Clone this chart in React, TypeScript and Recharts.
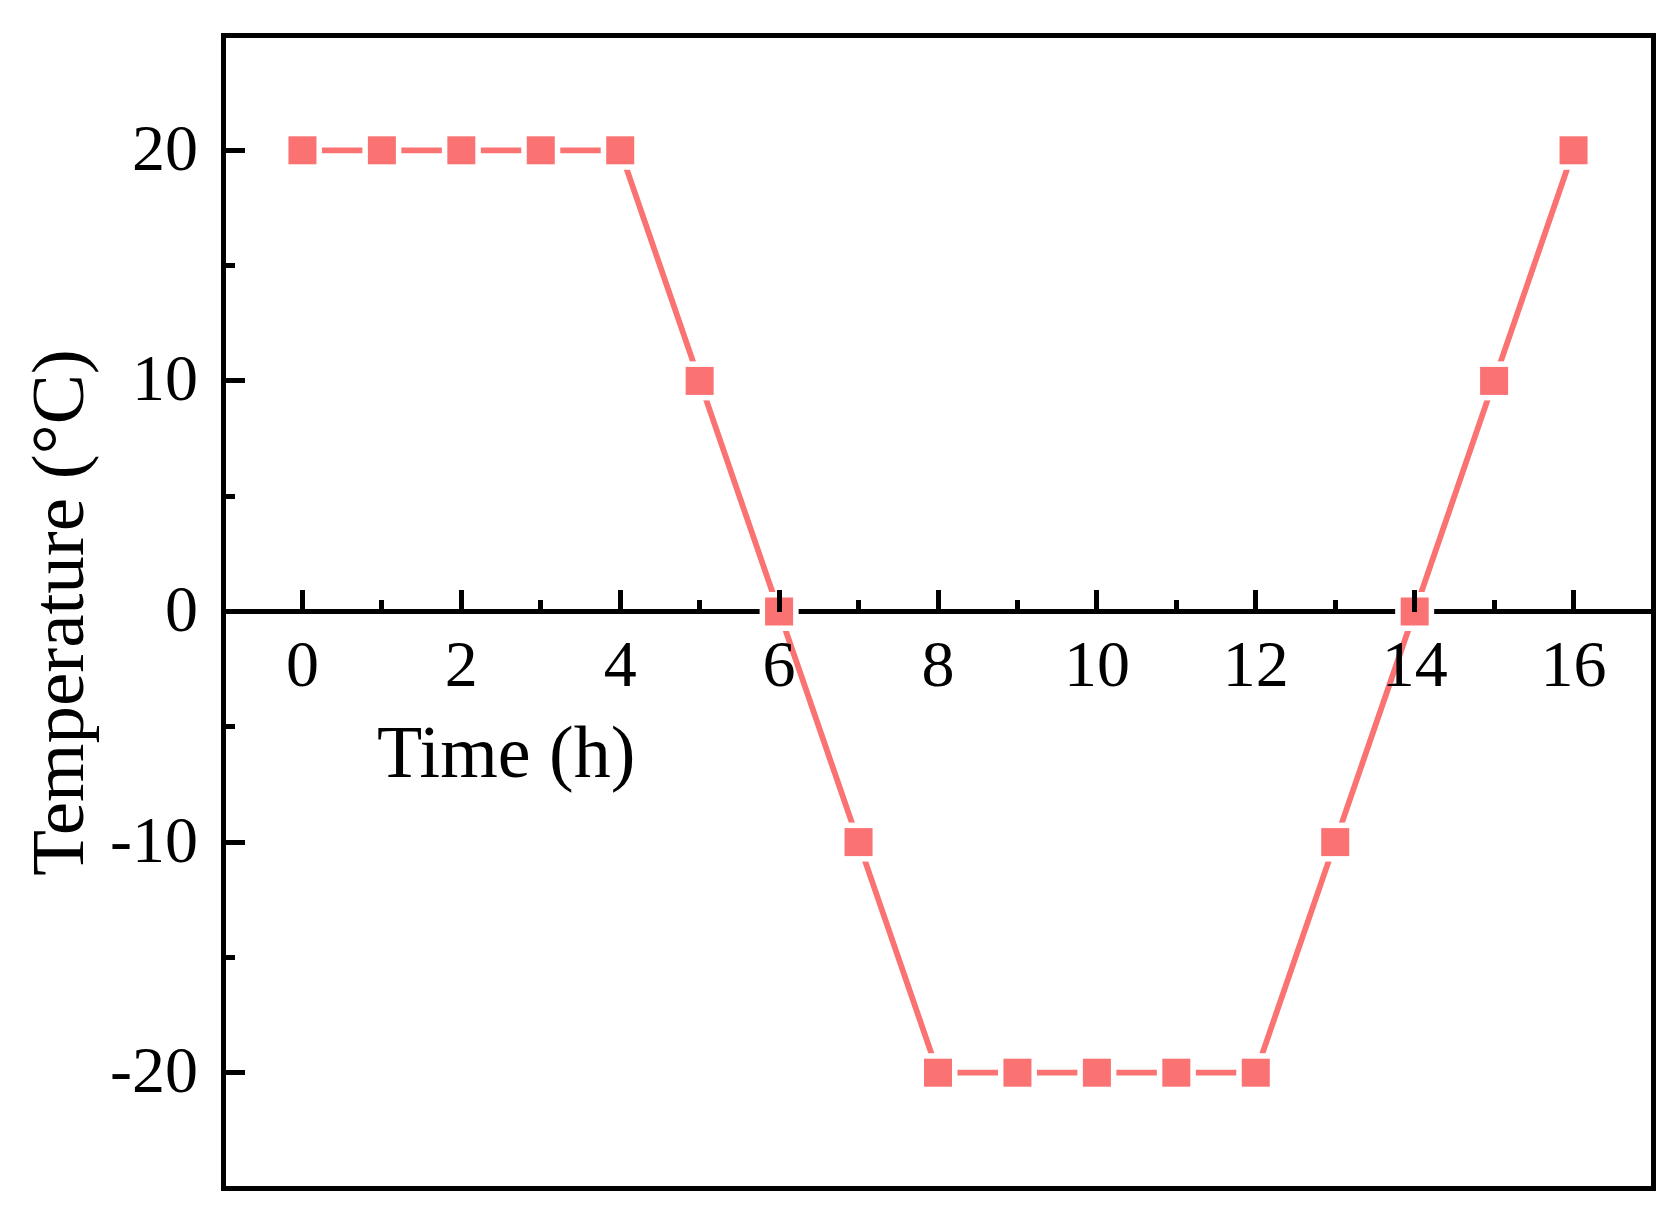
import React from 'react';
import { LineChart, Line, XAxis, YAxis, ReferenceArea, ReferenceLine } from 'recharts';

// chart values
const hours = [0, 1, 2, 3, 4, 5, 6, 7, 8, 9, 10, 11, 12, 13, 14, 15, 16];
const temperature = [20, 20, 20, 20, 20, 10, 0, -10, -20, -20, -20, -20, -20, -10, 0, 10, 20];
const xTicks = [0, 1, 2, 3, 4, 5, 6, 7, 8, 9, 10, 11, 12, 13, 14, 15, 16];
const yTicks = [-20, -15, -10, -5, 0, 5, 10, 15, 20];
const xDomain = [-1, 17];
const yDomain = [-25, 25];
const xTitle = 'Time (h)';
const yTitle = 'Temperature (°C)';

const data = hours.map((h, i) => ({ hour: h, temp: temperature[i] }));

// layout
const W = 1679;
const H = 1224;
const X_AXIS_H = 1;
const MARGIN = { top: 35, right: 26, bottom: 35, left: 0 };
const Y_AXIS_W = 223;
const PLOT_H = H - MARGIN.top - MARGIN.bottom - X_AXIS_H;
const FONT = "'Times New Roman', 'Liberation Serif', Times, serif";
const RED = '#FB7272';
const AXIS_W = 5;
const LINE_W = 5.8;
const MAJOR = 22;
const MINOR = 11.5;
const SQUARE = 28;
const GAP = 5.5;

// distance from the bottom edge of the plot up to the y = 0 line
const zeroOffset = (PLOT_H * (0 - yDomain[0])) / (yDomain[1] - yDomain[0]);

const XTick = ({ x, y, payload }: any) => {
  const y0 = y - zeroOffset;
  const major = payload.value % 2 === 0;
  return (
    <g>
      <line
        x1={x}
        x2={x}
        y1={y0}
        y2={y0 - (major ? MAJOR : MINOR)}
        stroke="#000"
        strokeWidth={AXIS_W}
        shapeRendering="crispEdges"
      />
      {major && (
        <text x={x} y={y0 + 74.5} textAnchor="middle" fontSize={66} fontFamily={FONT} fill="#000">
          {payload.value}
        </text>
      )}
    </g>
  );
};

const YTick = ({ x, y, payload }: any) => {
  const major = Math.abs(payload.value) % 10 === 0;
  return (
    <g>
      <line
        x1={x}
        x2={x + (major ? MAJOR : MINOR)}
        y1={y}
        y2={y}
        stroke="#000"
        strokeWidth={AXIS_W}
        shapeRendering="crispEdges"
      />
      {major && (
        <text x={x - 25} y={y + 19.5} textAnchor="end" fontSize={66} fontFamily={FONT} fill="#000">
          {payload.value}
        </text>
      )}
    </g>
  );
};

// white patch that opens the small gap between line and marker
const haloDot = (props: any) => {
  const { cx, cy, index } = props;
  const s = SQUARE + GAP * 2;
  return <rect key={`halo-${index}`} x={cx - s / 2} y={cy - s / 2} width={s} height={s} fill="#fff" />;
};

const squareDot = (props: any) => {
  const { cx, cy, index } = props;
  return (
    <rect key={`sq-${index}`} x={cx - SQUARE / 2} y={cy - SQUARE / 2} width={SQUARE} height={SQUARE} fill={RED} />
  );
};

export default function App() {
  return (
    <div style={{ position: 'absolute', left: 0, top: 0, width: W, height: H, background: '#fff' }}>
      <LineChart width={W} height={H} data={data} margin={MARGIN}>
        <ReferenceArea
          x1={xDomain[0]}
          x2={xDomain[1]}
          y1={yDomain[0]}
          y2={yDomain[1]}
          fill="none"
          fillOpacity={0}
          stroke="#000"
          strokeWidth={AXIS_W}
          shapeRendering="crispEdges"
        />
        <YAxis
          type="number"
          domain={yDomain}
          ticks={yTicks}
          interval={0}
          width={Y_AXIS_W}
          axisLine={false}
          tickLine={false}
          tickSize={0}
          tickMargin={0}
          tick={<YTick />}
        />
        <XAxis
          type="number"
          dataKey="hour"
          domain={xDomain}
          ticks={xTicks}
          interval={0}
          height={X_AXIS_H}
          axisLine={false}
          tickLine={false}
          tickSize={0}
          tickMargin={0}
          tick={<XTick />}
        />
        <Line
          type="linear"
          dataKey="temp"
          stroke={RED}
          strokeWidth={LINE_W}
          dot={haloDot}
          activeDot={false}
          isAnimationActive={false}
        />
        <ReferenceLine y={0} stroke="#000" strokeWidth={AXIS_W} shapeRendering="crispEdges" />
        <Line
          type="linear"
          dataKey="temp"
          stroke="none"
          strokeWidth={0}
          dot={squareDot}
          activeDot={false}
          isAnimationActive={false}
        />
      </LineChart>
      <svg
        width={W}
        height={H}
        style={{ position: 'absolute', left: 0, top: 0, pointerEvents: 'none' }}
      >
        <text x={377} y={777} fontSize={74} fontFamily={FONT} fill="#000">
          {xTitle}
        </text>
        <text
          x={83}
          y={612.5}
          fontSize={75}
          fontFamily={FONT}
          fill="#000"
          textAnchor="middle"
          transform="rotate(-90 83 612.5)"
        >
          {yTitle}
        </text>
      </svg>
    </div>
  );
}
